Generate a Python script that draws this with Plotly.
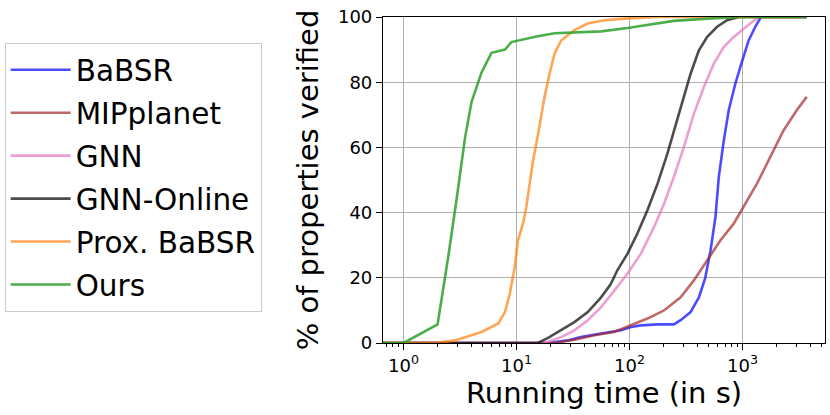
import plotly.graph_objects as go

# running time (s) and % of properties verified
babsr_t = [0.6, 19, 28.4, 37, 56, 84, 103, 126, 177, 247, 283, 347, 411, 468, 521, 576, 617, 682, 755, 865, 957, 1133, 1297, 1455, 3700]
babsr_pct = [0, 0, 0.8, 1.8, 2.9, 3.9, 4.9, 5.4, 5.7, 5.7, 7, 9.5, 14, 20, 28.4, 38.6, 51, 62, 71.4, 79.6, 84.7, 92.8, 97, 100, 100]

mip_t = [0.6, 21.7, 32.5, 48.8, 73, 103, 144, 202, 283, 371, 487, 638, 836, 1024, 1342, 1758, 2305, 3020, 3700]
mip_pct = [0, 0, 1, 2.4, 3.4, 5.4, 7.5, 10, 14, 19.2, 25.4, 31.5, 36.6, 41.7, 48.9, 57, 65.2, 71.4, 75.5]

gnn_t = [0.6, 17.7, 24.8, 32.5, 42.7, 56, 73, 96, 126, 165, 202, 247, 302, 371, 455, 557, 682, 836, 1024, 1254, 1387, 3700]
gnn_pct = [0, 0, 1.8, 3.9, 7, 11, 16, 21.3, 27.4, 35.6, 42.7, 51, 60, 70.3, 78.5, 85.7, 90.8, 93.9, 96.4, 99, 100, 100]

online_t = [0.6, 15.5, 19, 24.8, 32.5, 42.7, 56, 68, 78, 96, 117, 144, 177, 216, 247, 293, 347, 411, 487, 596, 730, 925, 3700]
online_pct = [0, 0, 1.6, 3.9, 6.4, 9.5, 14, 18, 22.3, 27.4, 33.5, 40.7, 48.9, 58, 65, 74.4, 82.6, 89.8, 93.9, 97, 99, 100, 100]

prox_t = [0.6, 1.9, 2.85, 4.9, 6.9, 7.9, 8.7, 9.6, 10.3, 11.4, 12.2, 14, 15.5, 17.7, 19.6, 21.7, 24.8, 32.5, 42.7, 60, 89, 176, 3700]
prox_pct = [0, 0, 0.8, 3.4, 6, 9.5, 15, 23, 31.5, 36.6, 41.7, 56, 64, 75.5, 82.6, 88.8, 92.8, 96, 98, 99, 99.5, 100, 100]

ours_t = [0.6, 1.0, 2.0, 2.5, 3.0, 3.5, 4.0, 4.9, 6.0, 7.9, 9.0, 11, 15, 21.7, 32.5, 56, 96, 176, 246, 490, 960, 3700]
ours_pct = [0, 0, 5.7, 27, 46, 63, 74, 83, 89, 90, 92.3, 93, 94, 95, 95.3, 95.6, 96.6, 98, 98.8, 99.5, 100, 100]

x_tickvals = [1, 10, 100, 1000]
x_ticktext = ["10<sup>0</sup>", "10<sup>1</sup>", "10<sup>2</sup>", "10<sup>3</sup>"]
x_minorvals = [m * 10 ** d for d in range(-1, 4) for m in range(2, 10)]
y_tickvals = [0, 20, 40, 60, 80, 100]

series = [
    ("BaBSR", babsr_t, babsr_pct, "rgba(0,0,255,0.7)"),
    ("MIPplanet", mip_t, mip_pct, "rgba(165,42,42,0.7)"),
    ("GNN", gnn_t, gnn_pct, "rgba(227,119,194,0.7)"),
    ("GNN-Online", online_t, online_pct, "rgba(0,0,0,0.7)"),
    ("Prox. BaBSR", prox_t, prox_pct, "rgba(255,127,14,0.7)"),
    ("Ours", ours_t, ours_pct, "rgba(44,160,44,0.85)"),
]

fig = go.Figure()
for name, t, pct, color in series:
    fig.add_trace(go.Scatter(x=t, y=pct, mode="lines", name=name, legendgroup=name,
                             line=dict(color=color, width=2.6)))

fig.update_layout(
    width=830, height=415,
    margin=dict(l=381, r=5, t=17, b=72),
    plot_bgcolor="white", paper_bgcolor="white",
    font=dict(family="DejaVu Sans", color="black", size=18),
    legend=dict(x=-0.856, y=0.92, xanchor="left", yanchor="top",
                font=dict(size=29.5), bordercolor="#cccccc", borderwidth=1,
                tracegroupgap=1.6, itemwidth=60),
)
fig.update_xaxes(
    type="log", range=[-0.182, 3.73],
    tickvals=x_tickvals, ticktext=x_ticktext,
    showline=True, linecolor="black", linewidth=1.2, mirror=True,
    ticks="outside", ticklen=6, tickcolor="black",
    showgrid=True, gridcolor="#b0b0b0", gridwidth=1,
    minor=dict(tickvals=x_minorvals, ticks="outside", ticklen=3, tickcolor="black", showgrid=False),
    title=dict(text="Running time (in s)", font=dict(size=29), standoff=4),
    zeroline=False,
)
fig.update_yaxes(
    range=[0, 100], tickvals=y_tickvals,
    showline=True, linecolor="black", linewidth=1.2, mirror=True,
    ticks="outside", ticklen=6, tickcolor="black",
    showgrid=True, gridcolor="#b0b0b0", gridwidth=1,
    title=dict(text="% of properties verified", font=dict(size=29), standoff=10),
    zeroline=False,
)

fig.write_html("out.html", config={"displayModeBar": False},
               post_script="document.body.style.margin='0';")
